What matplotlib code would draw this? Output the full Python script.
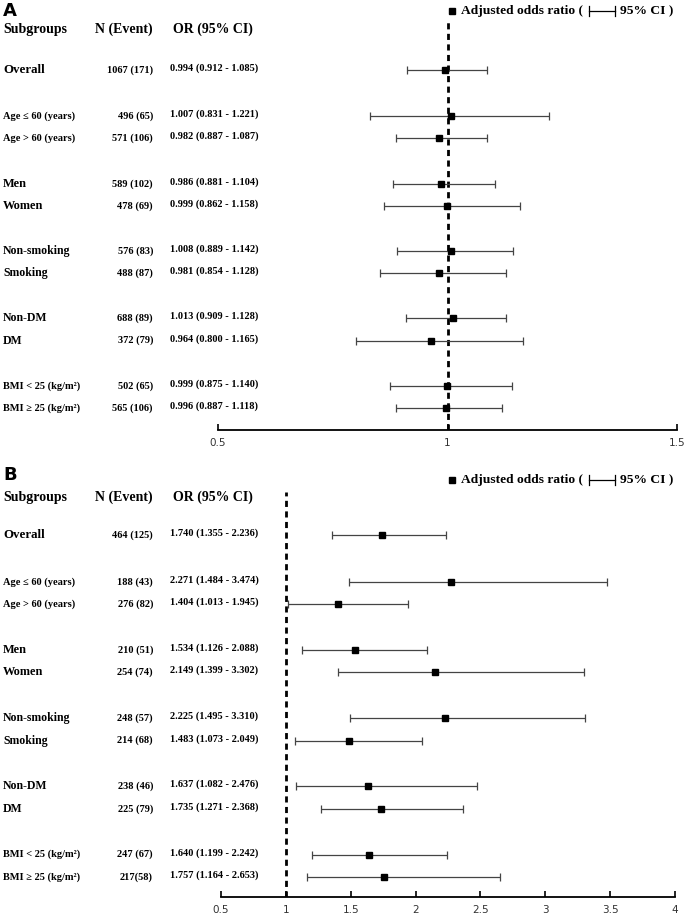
import matplotlib.pyplot as plt
import matplotlib.transforms as mtransforms
from matplotlib.lines import Line2D

W, H = 685, 915

subgroups = ['Overall', 'Age ≤ 60 (years)', 'Age > 60 (years)', 'Men', 'Women',
             'Non-smoking', 'Smoking', 'Non-DM', 'DM',
             'BMI < 25 (kg/m²)', 'BMI ≥ 25 (kg/m²)']

# panel A
n_a = ['1067 (171)', '496 (65)', '571 (106)', '589 (102)', '478 (69)',
       '576 (83)', '488 (87)', '688 (89)', '372 (79)', '502 (65)', '565 (106)']
or_a = [0.994, 1.007, 0.982, 0.986, 0.999, 1.008, 0.981, 1.013, 0.964, 0.999, 0.996]
lo_a = [0.912, 0.831, 0.887, 0.881, 0.862, 0.889, 0.854, 0.909, 0.800, 0.875, 0.887]
hi_a = [1.085, 1.221, 1.087, 1.104, 1.158, 1.142, 1.128, 1.128, 1.165, 1.140, 1.118]
ticks_a = [0.5, 1, 1.5]

# panel B
n_b = ['464 (125)', '188 (43)', '276 (82)', '210 (51)', '254 (74)',
       '248 (57)', '214 (68)', '238 (46)', '225 (79)', '247 (67)', '217(58)']
or_b = [1.740, 2.271, 1.404, 1.534, 2.149, 2.225, 1.483, 1.637, 1.735, 1.640, 1.757]
lo_b = [1.355, 1.484, 1.013, 1.126, 1.399, 1.495, 1.073, 1.082, 1.271, 1.199, 1.164]
hi_b = [2.236, 3.474, 1.945, 2.088, 3.302, 3.310, 2.049, 2.476, 2.368, 2.242, 2.653]
ticks_b = [0.5, 1, 1.5, 2, 2.5, 3, 3.5, 4]

serif = ['Liberation Serif', 'DejaVu Serif']
ypos = [0] + [2.1 + 3.05 * (i // 2) + (i % 2) for i in range(10)]
# label sizes (plain words look bigger in the original)
lab_fs = [9.3, 7.5, 7.5, 8.8, 8.8, 8.5, 8.5, 8.5, 8.5, 7.5, 7.5]

fig = plt.figure(figsize=(W / 100, H / 100), dpi=100)


def fx(px):
    return px / W


def fy(py):
    return 1 - py / H


def panel(letter, box, letter_px, head_px, leg_px, n, orv, lo, hi, ticks, ylim):
    x0, y0, x1, y1 = box
    ax = fig.add_axes([fx(x0), fy(y1), fx(x1) - fx(x0), (y1 - y0) / H])
    ax.errorbar(orv, ypos, xerr=[[o - l for o, l in zip(orv, lo)],
                                 [h - o for o, h in zip(orv, hi)]],
                fmt='s', color='black', ms=5, ecolor='#444444',
                elinewidth=0.9, capsize=3, capthick=0.9, zorder=3)
    ax.axvline(1, color='black', lw=2, ls=(0, (2.2, 1.6)), zorder=2)
    ax.set_xlim(ticks[0], ticks[-1])
    ax.set_ylim(*ylim)
    ax.set_xticks(ticks)
    ax.set_xticklabels([f'{t:g}' for t in ticks], color='#333333', fontsize=7.5)
    ax.tick_params(axis='x', direction='in', length=4, width=1.2, pad=6)
    ax.set_yticks([])
    for s in ['top', 'right', 'left']:
        ax.spines[s].set_visible(False)
    ax.spines['bottom'].set_linewidth(1.3)
    ax.patch.set_alpha(0)

    tr = mtransforms.blended_transform_factory(fig.transFigure, ax.transData)
    for i, y in enumerate(ypos):
        ax.text(fx(3), y, subgroups[i], transform=tr, family=serif,
                weight='bold', fontsize=lab_fs[i], va='center', ha='left')
        ax.text(fx(153), y, n[i], transform=tr, family=serif,
                weight='bold', fontsize=7.5, va='center', ha='right')
        ax.text(fx(170), y - 0.08, f'{orv[i]:.3f} ({lo[i]:.3f} - {hi[i]:.3f})',
                transform=tr, family=serif, weight='bold', fontsize=7.5,
                va='center', ha='left')

    # panel letter and headers
    fig.text(fx(3), fy(letter_px), letter, family='DejaVu Sans', weight='bold',
             fontsize=13, va='top')
    hy = fy(head_px)
    fig.text(fx(3), hy, 'Subgroups', family=serif, weight='bold', fontsize=10, va='center')
    fig.text(fx(153), hy, 'N (Event)', family=serif, weight='bold', fontsize=10,
             va='center', ha='right')
    fig.text(fx(173), hy, 'OR (95% CI)', family=serif, weight='bold', fontsize=10,
             va='center')

    # legend
    ly = fy(leg_px)
    fig.add_artist(Line2D([fx(452)], [ly], marker='s', ms=4, color='black'))
    fig.text(fx(461), ly, 'Adjusted odds ratio (', family=serif,
             weight='bold', fontsize=9.7, va='center')
    a, b = fx(589), fx(615)
    fig.add_artist(Line2D([a, b], [ly, ly], color='black', lw=0.9))
    fig.add_artist(Line2D([a, a], [ly - 0.0055, ly + 0.0055], color='black', lw=0.9))
    fig.add_artist(Line2D([b, b], [ly - 0.0055, ly + 0.0055], color='black', lw=0.9))
    fig.text(fx(620), ly, '95% CI )', family=serif,
             weight='bold', fontsize=9.7, va='center')
    return ax


panel('A', (218, 22, 677, 430), 2, 29, 11, n_a, or_a, lo_a, hi_a, ticks_a,
      (16.3, -2.17))
panel('B', (221, 492, 675, 897), 466, 497, 480, n_b, or_b, lo_b, hi_b, ticks_b,
      (16.2, -1.92))

fig.savefig('out.png', dpi=100)
